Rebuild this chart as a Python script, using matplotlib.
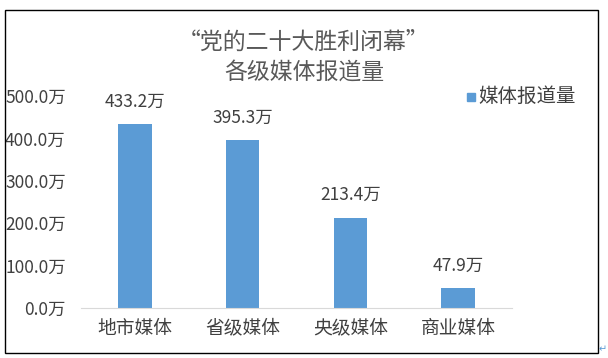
import matplotlib
matplotlib.use("Agg")
import matplotlib.pyplot as plt
from matplotlib.patches import Rectangle

plt.rcParams["font.family"] = ["Noto Sans CJK SC", "DejaVu Sans"]

# data
categories = ["地市媒体", "省级媒体", "央级媒体", "商业媒体"]
values = [433.2, 395.3, 213.4, 47.9]
yticks = [0, 100, 200, 300, 400, 500]
series_name = "媒体报道量"
title = "“党的二十大胜利闭幕”\n各级媒体报道量"

BAR_COLOR = "#5B9BD5"
TEXT_COLOR = "#404040"

fig = plt.figure(figsize=(6.08, 3.58), dpi=100)
ax = fig.add_axes([81 / 608, 1 - 308 / 358, (512 - 81) / 608, (308 - 96) / 358])

x = range(len(categories))
ax.bar(x, values, width=0.31, color=BAR_COLOR, zorder=2)
for xi, v in zip(x, values):
    ax.annotate(f"{v:.1f}万", (xi, v), xytext=(0, 16), textcoords="offset points",
                ha="center", va="center", fontsize=12.5, color=TEXT_COLOR,
                annotation_clip=False)

ax.set_xlim(-0.5, len(categories) - 0.5)
ax.set_ylim(0, 500)
ax.set_yticks(yticks)
ax.set_yticklabels([f"{t:.1f}万" for t in yticks], fontsize=12.5, color=TEXT_COLOR)
ax.set_xticks(list(x))
ax.set_xticklabels(categories, fontsize=13.5, color=TEXT_COLOR)
ax.tick_params(axis="y", length=0, pad=11)
ax.tick_params(axis="x", length=0, pad=7)
for side in ["top", "right", "left"]:
    ax.spines[side].set_visible(False)
ax.spines["bottom"].set_color("#D9D9D9")

fig.text(0.5, 1 - 57 / 358, title, ha="center", va="center",
         fontsize=16.5, color="#595959", linespacing=1.35)

# legend
fig.patches.append(Rectangle((467 / 608, 1 - 101 / 358), 8 / 608, 8 / 358,
                             transform=fig.transFigure, color=BAR_COLOR))
fig.text(478 / 608, 1 - 96 / 358, series_name, ha="left", va="center",
         fontsize=14, color=TEXT_COLOR)

# chart border
fig.patches.append(Rectangle((5 / 608, 1 - 353 / 358), 593 / 608, 343 / 358,
                             transform=fig.transFigure, fill=False,
                             edgecolor="black", linewidth=1))
fig.text(603 / 608, 1 - 349 / 358, "↵", ha="center", va="center",
         fontsize=7, color=BAR_COLOR)

fig.savefig("out.png", dpi=100)
